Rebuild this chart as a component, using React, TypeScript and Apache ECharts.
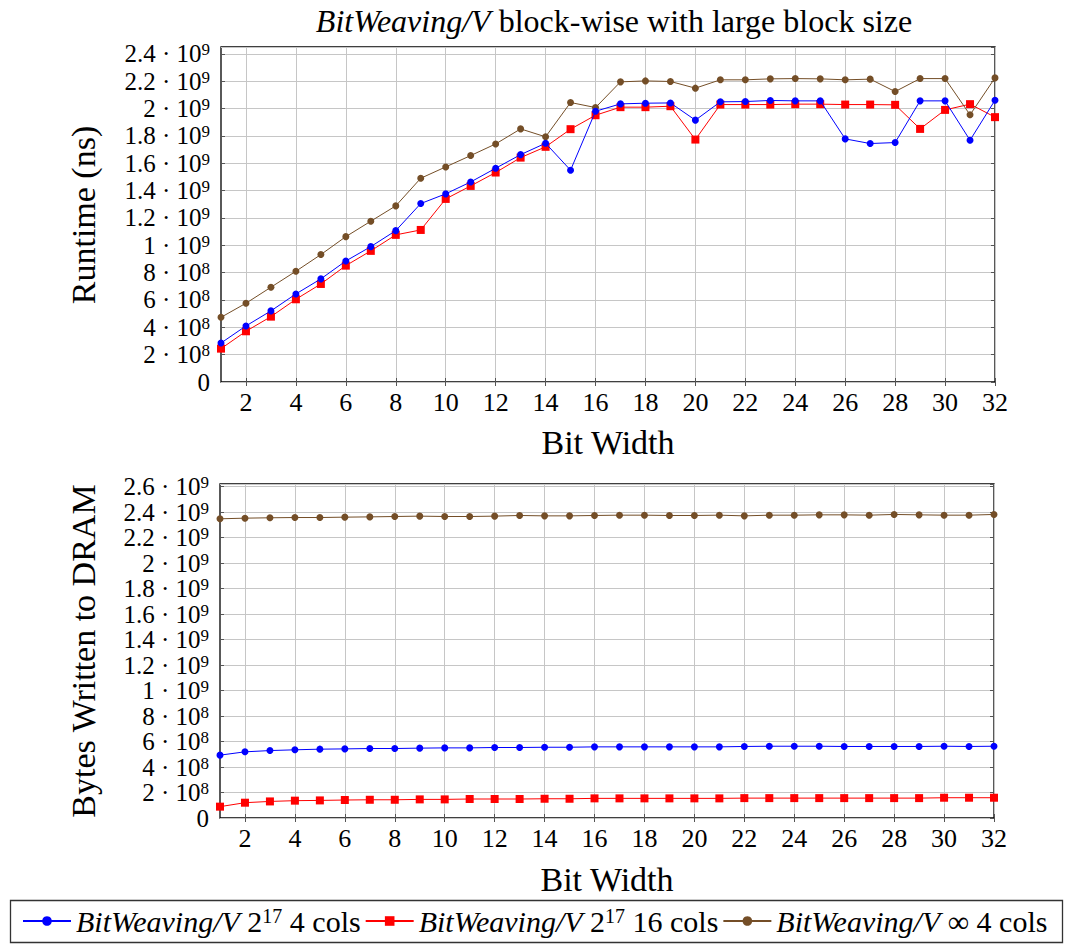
import React, { useEffect, useRef } from 'react';
import * as echarts from 'echarts';

const bitWidths = ['1','2','3','4','5','6','7','8','9','10','11','12','13','14','15','16','17','18','19','20','21','22','23','24','25','26','27','28','29','30','31','32'];

const seriesNames = ['BitWeaving/V 2^17 4 cols', 'BitWeaving/V 2^17 16 cols', 'BitWeaving/V ∞ 4 cols'];
const seriesColors = ['#0000ff', '#ff0000', '#744e27'];
const seriesSymbols = ['circle', 'rect', 'circle'];

const runtime4Cols = [2.85e8, 4.10e8, 5.20e8, 6.44e8, 7.54e8, 8.85e8, 9.90e8, 1.107e9, 1.305e9, 1.376e9, 1.463e9, 1.563e9, 1.663e9, 1.746e9, 1.549e9, 1.980e9, 2.034e9, 2.039e9, 2.041e9, 1.915e9, 2.049e9, 2.051e9, 2.059e9, 2.056e9, 2.056e9, 1.778e9, 1.744e9, 1.751e9, 2.056e9, 2.056e9, 1.768e9, 2.061e9];
const runtime16Cols = [2.44e8, 3.71e8, 4.78e8, 6.05e8, 7.17e8, 8.51e8, 9.59e8, 1.076e9, 1.112e9, 1.339e9, 1.434e9, 1.532e9, 1.641e9, 1.720e9, 1.849e9, 1.951e9, 2.010e9, 2.010e9, 2.017e9, 1.773e9, 2.029e9, 2.029e9, 2.029e9, 2.032e9, 2.032e9, 2.029e9, 2.029e9, 2.027e9, 1.851e9, 1.990e9, 2.032e9, 1.937e9];
const runtimeInf4Cols = [4.73e8, 5.76e8, 6.93e8, 8.10e8, 9.32e8, 1.063e9, 1.176e9, 1.288e9, 1.490e9, 1.573e9, 1.656e9, 1.741e9, 1.851e9, 1.793e9, 2.044e9, 2.007e9, 2.195e9, 2.202e9, 2.198e9, 2.149e9, 2.210e9, 2.210e9, 2.217e9, 2.219e9, 2.217e9, 2.210e9, 2.215e9, 2.124e9, 2.219e9, 2.219e9, 1.954e9, 2.224e9];

const bytes4Cols = [4.93e8, 5.19e8, 5.29e8, 5.35e8, 5.40e8, 5.42e8, 5.45e8, 5.45e8, 5.48e8, 5.50e8, 5.50e8, 5.53e8, 5.53e8, 5.55e8, 5.55e8, 5.58e8, 5.58e8, 5.58e8, 5.58e8, 5.58e8, 5.58e8, 5.61e8, 5.63e8, 5.63e8, 5.63e8, 5.61e8, 5.61e8, 5.61e8, 5.61e8, 5.63e8, 5.61e8, 5.63e8];
const bytes16Cols = [0.89e8, 1.20e8, 1.30e8, 1.36e8, 1.38e8, 1.41e8, 1.43e8, 1.43e8, 1.46e8, 1.46e8, 1.49e8, 1.49e8, 1.49e8, 1.51e8, 1.51e8, 1.54e8, 1.54e8, 1.54e8, 1.54e8, 1.54e8, 1.54e8, 1.56e8, 1.56e8, 1.56e8, 1.56e8, 1.56e8, 1.56e8, 1.56e8, 1.56e8, 1.59e8, 1.59e8, 1.59e8];
const bytesInf4Cols = [2.347e9, 2.352e9, 2.355e9, 2.357e9, 2.357e9, 2.360e9, 2.362e9, 2.365e9, 2.368e9, 2.365e9, 2.365e9, 2.368e9, 2.373e9, 2.370e9, 2.370e9, 2.373e9, 2.3755e9, 2.3755e9, 2.373e9, 2.373e9, 2.3755e9, 2.370e9, 2.3755e9, 2.3755e9, 2.378e9, 2.378e9, 2.3755e9, 2.381e9, 2.378e9, 2.3755e9, 2.3755e9, 2.381e9];

const runtimeData = [runtime4Cols, runtime16Cols, runtimeInf4Cols];
const bytesData = [bytes4Cols, bytes16Cols, bytesInf4Cols];

const runtimeAxis = { min: 0, max: 2.45e9, interval: 2e8 };
const bytesAxis = { min: 0, max: 2.62e9, interval: 2e8 };

const titleText = '{i|BitWeaving/V} block-wise with large block size';
const runtimeLabel = 'Runtime (ns)';
const bytesLabel = 'Bytes Written to DRAM';
const xLabel = 'Bit Width';
const legendLabels: Record<string, string> = {
  'BitWeaving/V 2^17 4 cols': '{i|BitWeaving/V} 2{s|17} 4 cols',
  'BitWeaving/V 2^17 16 cols': '{i|BitWeaving/V} 2{s|17} 16 cols',
  'BitWeaving/V ∞ 4 cols': '{i|BitWeaving/V} ∞ 4 cols',
};

const FONT = 'Liberation Serif';
const TICK_SIZE = 25;
const TITLE_SIZE = 32;
const LABEL_SIZE = 34;
const LEGEND_SIZE = 30;

function isMajor(v: number): boolean {
  const k = v / 2e8;
  return Math.abs(k - Math.round(k)) < 1e-6;
}

// labels for all major ticks except 0 (0 is drawn by a companion axis)
function yFormatter(v: number): string {
  if (!isMajor(v) || v === 0) return '';
  const e = v >= 1e9 - 1 ? 9 : 8;
  const m = Math.round((v / Math.pow(10, e)) * 10) / 10;
  return `{b|${m} · 10}{s|${e}}`;
}

function zeroFormatter(v: number): string {
  return v === 0 ? '{b|0}' : '';
}

export default function App() {
  const ref = useRef<HTMLDivElement>(null);
  useEffect(() => {
    const chart = echarts.init(ref.current!, null, { renderer: 'svg' });
    const richTick = {
      b: { fontFamily: FONT, fontSize: TICK_SIZE, color: '#000', lineHeight: 18 },
      s: { fontFamily: FONT, fontSize: 17, color: '#000', lineHeight: 10, padding: [0, 0, 8, 0] },
    };
    const gridColor = '#c6c6c6';
    const tickColor = '#555';
    const oddIdx = (i: number) => i % 2 === 1;

    const grids = [
      { left: 221, top: 47, width: 774, height: 335 },
      { left: 220, top: 484, width: 774, height: 334 },
    ].map((g) => ({ ...g, show: true, borderColor: '#000', borderWidth: 1.3, backgroundColor: 'transparent' }));

    const mainX = (gridIndex: number) => ({
      type: 'category',
      gridIndex,
      data: bitWidths,
      boundaryGap: false,
      axisLine: { show: false },
      axisTick: { show: true, inside: true, length: 4, interval: oddIdx, lineStyle: { color: tickColor } },
      axisLabel: { interval: oddIdx, fontFamily: FONT, fontSize: 26, color: '#000', margin: 7 },
      splitLine: { show: true, interval: oddIdx, lineStyle: { color: gridColor, width: 1 } },
    });
    const topX = (gridIndex: number) => ({
      type: 'category',
      gridIndex,
      position: 'top',
      data: bitWidths,
      boundaryGap: false,
      axisLine: { show: false },
      axisTick: { show: true, inside: true, length: 4, interval: oddIdx, lineStyle: { color: tickColor } },
      axisLabel: { show: false },
      splitLine: { show: false },
    });
    const mainY = (gridIndex: number, ax: any) => ({
      type: 'value',
      gridIndex,
      ...ax,
      axisLine: { show: false },
      axisTick: { show: true, inside: true, length: 4, lineStyle: { color: tickColor } },
      axisLabel: { formatter: yFormatter, rich: richTick, margin: 11, showMaxLabel: false, showMinLabel: false, hideOverlap: false },
      splitLine: { show: true, lineStyle: { color: gridColor, width: 1 } },
    });
    const zeroY = (gridIndex: number, ax: any) => ({
      type: 'value',
      gridIndex,
      position: 'left',
      ...ax,
      axisLine: { show: false },
      axisTick: { show: false },
      axisLabel: { formatter: zeroFormatter, rich: richTick, margin: 11, showMaxLabel: false, showMinLabel: true, hideOverlap: false },
      splitLine: { show: false },
    });
    const rightY = (gridIndex: number, ax: any) => ({
      type: 'value',
      gridIndex,
      position: 'right',
      ...ax,
      axisLine: { show: false },
      axisTick: { show: true, inside: true, length: 4, lineStyle: { color: tickColor } },
      axisLabel: { show: false },
      splitLine: { show: false },
    });

    const mkSeries = (data: number[][], axisIndex: number) =>
      data.map((vals, i) => ({
        type: 'line',
        name: seriesNames[i],
        xAxisIndex: axisIndex,
        yAxisIndex: axisIndex,
        data: vals,
        symbol: seriesSymbols[i],
        symbolSize: seriesSymbols[i] === 'rect' ? 8 : 7,
        showAllSymbol: true,
        lineStyle: { color: seriesColors[i], width: 1 },
        itemStyle: { color: seriesColors[i] },
        z: i === 0 ? 4 : 3,
      }));

    const labelStyle = (text: string) => ({
      text,
      fontFamily: FONT,
      fontSize: LABEL_SIZE,
      fill: '#000',
      textAlign: 'center',
      textVerticalAlign: 'middle',
    });

    chart.setOption({
      animation: false,
      backgroundColor: '#fff',
      title: {
        text: titleText,
        left: 609,
        textAlign: 'center',
        top: 0,
        textStyle: {
          fontFamily: FONT,
          fontSize: TITLE_SIZE,
          fontWeight: 'normal',
          color: '#000',
          rich: {
            i: { fontFamily: FONT, fontSize: TITLE_SIZE, fontStyle: 'italic', color: '#000' },
          },
        },
      },
      grid: grids,
      xAxis: [mainX(0), mainX(1), topX(0), topX(1)],
      yAxis: [
        mainY(0, runtimeAxis),
        mainY(1, bytesAxis),
        rightY(0, runtimeAxis),
        rightY(1, bytesAxis),
        zeroY(0, runtimeAxis),
        zeroY(1, bytesAxis),
      ],
      legend: {
        data: seriesNames,
        left: 22,
        top: 906,
        itemWidth: 48,
        itemHeight: 12,
        itemGap: 4,
        padding: 0,
        formatter: (name: string) => legendLabels[name] || name,
        textStyle: {
          fontFamily: FONT,
          fontSize: LEGEND_SIZE,
          color: '#000',
          rich: {
            i: { fontFamily: FONT, fontSize: LEGEND_SIZE, fontStyle: 'italic', color: '#000' },
            s: { fontFamily: FONT, fontSize: 20, color: '#000', lineHeight: 12, padding: [0, 0, 10, 0] },
          },
        },
      },
      graphic: [
        { type: 'text', x: 83, y: 215, rotation: Math.PI / 2, style: labelStyle(runtimeLabel) },
        { type: 'text', x: 83, y: 651, rotation: Math.PI / 2, style: labelStyle(bytesLabel) },
        { type: 'text', x: 608, y: 442, style: labelStyle(xLabel) },
        { type: 'text', x: 607, y: 879, style: labelStyle(xLabel) },
        {
          type: 'rect',
          shape: { x: 10.5, y: 900.5, width: 1052, height: 42 },
          style: { fill: 'none', stroke: '#333', lineWidth: 1.3 },
          z: -1,
        },
      ],
      series: [...mkSeries(runtimeData, 0), ...mkSeries(bytesData, 1)],
    });
    return () => chart.dispose();
  }, []);
  return <div ref={ref} style={{ position: 'absolute', left: 0, top: 0, width: 1067, height: 948 }} />;
}
